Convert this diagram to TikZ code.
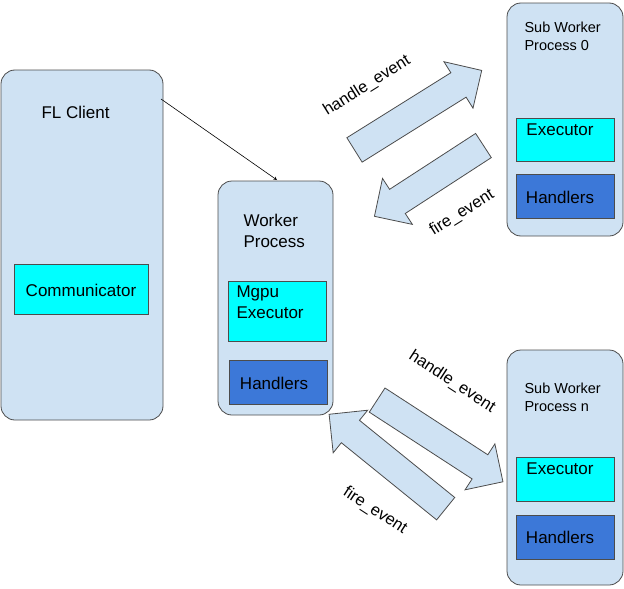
\documentclass[tikz,border=0pt]{standalone}
\usepackage{fontspec}
\setmainfont{Liberation Sans}
\usetikzlibrary{shapes.arrows}
\definecolor{lb}{HTML}{CFE2F3}
\definecolor{cy}{HTML}{00FFFF}
\definecolor{bl}{HTML}{3C78D8}
\begin{document}
\begin{tikzpicture}[x=1pt,y=-1pt,
 cont/.style={draw=black!70,fill=lb,rounded corners=14pt,line width=0.8pt},
 box/.style={draw=black!70,line width=0.8pt},
 exe/.style={box,fill=cy},
 hnd/.style={box,fill=bl},
 big/.style={font=\fontsize{17}{21}\selectfont},
 lab/.style={big,align=left,anchor=west},
 small/.style={font=\fontsize{14.5}{18}\selectfont,align=left,anchor=west},
 barrow/.style={single arrow,draw=black!70,fill=lb,line width=0.8pt,single arrow head extend=13pt,single arrow head indent=0pt,inner sep=0pt},
 evt/.style={font=\fontsize{16.5}{19}\selectfont}]
\useasboundingbox (0,0) rectangle (624,589);
\draw[cont] (1,70) rectangle (163,420);
\node[lab] (flc) at (38,112) {FL Client};
\draw[exe] (14,264) rectangle (148,314);
\node[big] (comm) at (81,290) {Communicator};
\draw[cont] (218,181) rectangle (333,415);
\node[lab] (wp) at (240,231) {Worker\\Process};
\draw[exe] (228,281) rectangle (326,341);
\node[lab] (mg) at (233,302) {Mgpu\\Executor};
\draw[hnd] (229,360) rectangle (327,404);
\node[big] (h1) at (274,383) {Handlers};
\draw[cont] (507,3) rectangle (623,236);
\node[small] (s0) at (521,36) {Sub Worker\\Process 0};
\draw[exe] (516,118) rectangle (614,161);
\node[big] (e0) at (560,130) {Executor};
\draw[hnd] (516,174) rectangle (614,218);
\node[big] (h0) at (560,197) {Handlers};
\draw[cont] (507,350) rectangle (623,585);
\node[small] (sn) at (521,397) {Sub Worker\\Process n};
\draw[exe] (516,457) rectangle (614,501);
\node[big] (en) at (560,469) {Executor};
\draw[hnd] (516,515) rectangle (614,559);
\node[big] (hn) at (560,537) {Handlers};
\coordinate (a1) at (161,99);
\coordinate (a2) at (277,180);
\draw[-stealth,line width=0.6pt] (a1) -- (a2);
\node[barrow,minimum height=150pt,rotate=32] (u1) at (412,114) {\rule{0pt}{28pt}};
\node[barrow,minimum height=130pt,rotate=213] (u2) at (435,177) {\rule{0pt}{28pt}};
\node[barrow,minimum height=150pt,rotate=-33] (l1) at (434,437) {\rule{0pt}{28pt}};
\node[barrow,minimum height=150pt,rotate=141] (l2) at (393,466) {\rule{0pt}{28pt}};
\node[evt,rotate=32] (t1) at (367,86) {handle\_event};
\node[evt,rotate=32] (t2) at (462,213) {fire\_event};
\node[evt,rotate=-33] (t3) at (452,382) {handle\_event};
\node[evt,rotate=-33] (t4) at (375,511) {fire\_event};
\end{tikzpicture}
\end{document}
